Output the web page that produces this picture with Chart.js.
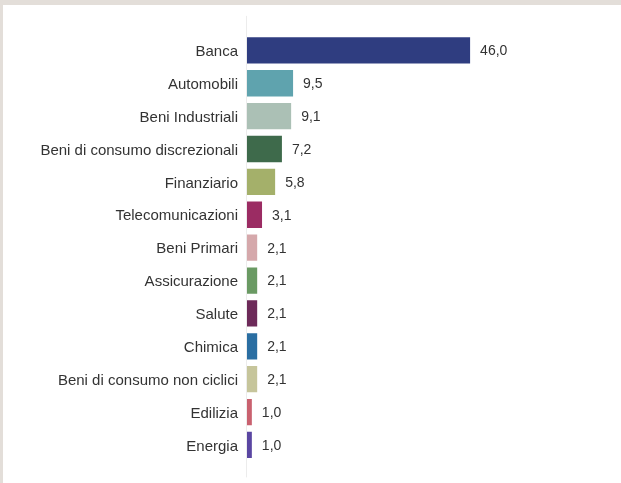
<!DOCTYPE html>
<html>
<head>
<meta charset="utf-8">
<script src="https://cdn.jsdelivr.net/npm/chart.js@4"></script>
<style>
  html, body { margin: 0; padding: 0; background: #e3ded9; }
  #frame { position: absolute; left: 3px; top: 5px; width: 618px; height: 478px; background: #fff; }
  canvas { display: block; }
</style>
</head>
<body>
<div id="frame"><canvas id="chart" width="618" height="478"></canvas></div>
<script>
// sectors and weights (%)
const categories = [
  'Banca', 'Automobili', 'Beni Industriali', 'Beni di consumo discrezionali',
  'Finanziario', 'Telecomunicazioni', 'Beni Primari', 'Assicurazione',
  'Salute', 'Chimica', 'Beni di consumo non ciclici', 'Edilizia', 'Energia',
];
const values = [46.0, 9.5, 9.1, 7.2, 5.8, 3.1, 2.1, 2.1, 2.1, 2.1, 2.1, 1.0, 1.0];
const barColors = [
  '#2f3d80', '#5fa3ae', '#abc0b5', '#3e6a4b', '#a4b06a', '#9b2c63', '#d5a8ab',
  '#6a9a63', '#6d2a59', '#2a6ea2', '#c6c59b', '#c9616f', '#5a46a2',
];

const fontFamily = '"Liberation Sans", Arial, sans-serif';

// thin vertical axis line, a bit longer than the category area
const axisLine = {
  id: 'axisLine',
  beforeDatasetsDraw(chart) {
    const ctx = chart.ctx;
    const x = chart.scales.x.getPixelForValue(0) - 0.5;
    ctx.save();
    ctx.strokeStyle = '#ececec';
    ctx.lineWidth = 1;
    ctx.beginPath();
    ctx.moveTo(x, chart.chartArea.top - 18);
    ctx.lineTo(x, chart.chartArea.bottom + 16);
    ctx.stroke();
    ctx.restore();
  },
};

// value labels at the end of each bar
const valueLabels = {
  id: 'valueLabels',
  afterDatasetsDraw(chart) {
    const ctx = chart.ctx;
    const meta = chart.getDatasetMeta(0);
    ctx.save();
    ctx.font = '14px ' + fontFamily;
    ctx.fillStyle = '#333333';
    ctx.textAlign = 'left';
    ctx.textBaseline = 'middle';
    meta.data.forEach((bar, i) => {
      ctx.fillText(values[i].toFixed(1).replace('.', ','), bar.x + 10, bar.y + 1);
    });
    ctx.restore();
  },
};

new Chart(document.getElementById('chart').getContext('2d'), {
  type: 'bar',
  data: {
    labels: categories,
    datasets: [
      {
        data: values,
        backgroundColor: barColors,
        borderWidth: 0,
        barPercentage: 0.8,
        categoryPercentage: 1,
      },
    ],
  },
  options: {
    indexAxis: 'y',
    responsive: false,
    animation: false,
    layout: {
      padding: { left: 0, right: 131.5, top: 28.9, bottom: 21.6 },
    },
    scales: {
      x: {
        display: false,
        min: 0,
        max: 50,
      },
      y: {
        afterFit: (scale) => { scale.width = 244; },
        grid: { display: false, drawTicks: false },
        border: { display: false },
        ticks: {
          padding: 9,
          labelOffset: 1.5,
          color: '#333333',
          font: { family: fontFamily, size: 15 },
        },
      },
    },
    plugins: {
      legend: { display: false },
      tooltip: { enabled: false },
    },
  },
  plugins: [axisLine, valueLabels],
});
</script>
</body>
</html>
